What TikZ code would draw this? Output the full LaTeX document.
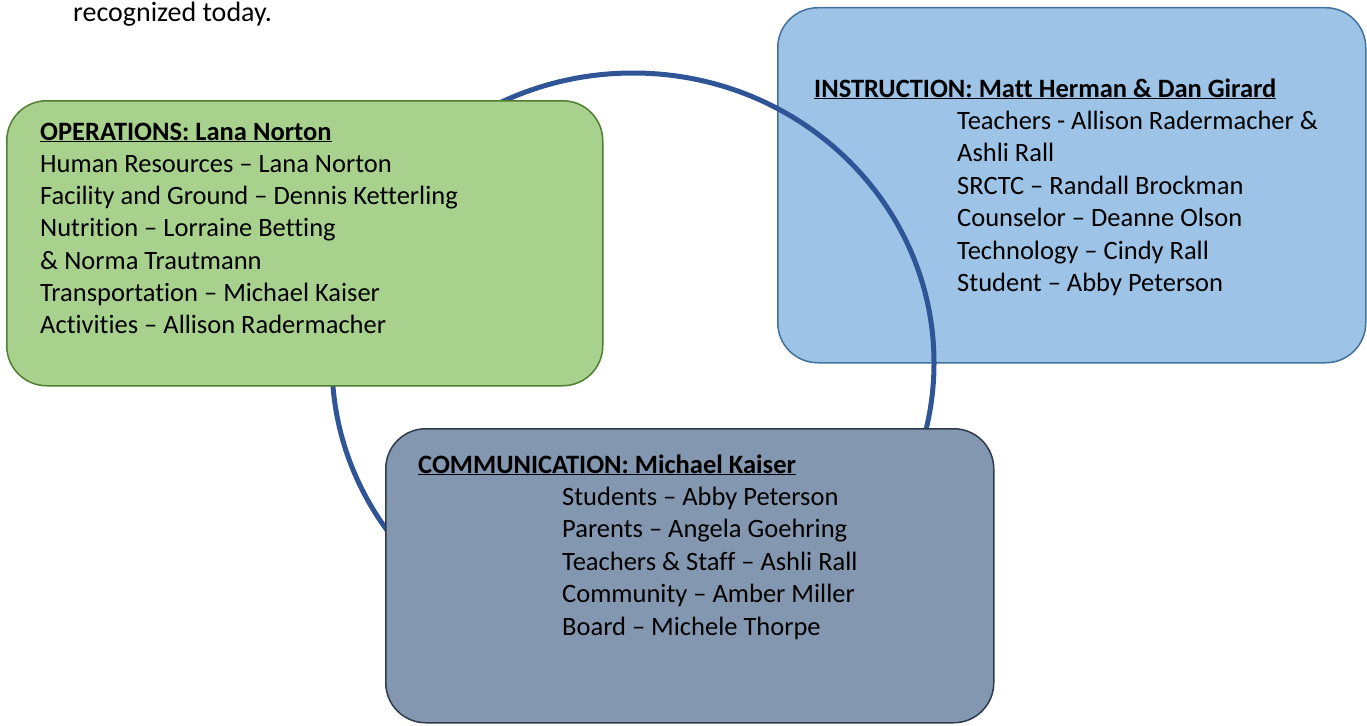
\documentclass[tikz,border=0pt]{standalone}
\usepackage{fontspec}
\setmainfont{Carlito}[Ligatures=NoCommon]
\usetikzlibrary{positioning}
\definecolor{opsfill}{HTML}{A9D18E}
\definecolor{opsdraw}{HTML}{507E32}
\definecolor{insfill}{HTML}{9DC3E6}
\definecolor{insdraw}{HTML}{41719C}
\definecolor{comfill}{HTML}{8497B0}
\definecolor{comdraw}{HTML}{2F3A4A}
\definecolor{ringblue}{HTML}{2F5597}

\begin{document}
\begin{tikzpicture}[x=1pt,y=-1pt,
  box/.style={draw,line width=1.5pt,rounded corners=40pt,anchor=north west,inner sep=0pt},
  txt/.style={anchor=base west,inner sep=0pt,font=\fontsize{26.5}{32}\selectfont},
  hdr/.style={txt,font=\fontsize{26.5}{32}\selectfont\bfseries}]
\useasboundingbox (0,0) rectangle (1367,725);
\node[txt,font=\fontsize{28}{34}\selectfont] (intro) at (73,22) {recognized today.};
% instruction
\node[box,fill=insfill,draw=insdraw,minimum width=588pt,minimum height=355pt] (ins) at (777,7) {};
\draw[ringblue,line width=5pt] (633,363) ellipse [x radius=301pt,y radius=290pt];
\node[hdr] (insHead) at (814,97) {\underline{INSTRUCTION: Matt Herman \& Dan Girard}};
\foreach \t [count=\i] in {Teachers - Allison Radermacher \&, Ashli Rall, SRCTC – Randall Brockman,
	Counselor – Deanne Olson, Technology – Cindy Rall, Student – Abby Peterson}{
	\node[txt] (ins\i) at (957,97+32.4*\i) {\t};
	}
% operations
\node[box,fill=opsfill,draw=opsdraw,minimum width=596pt,minimum height=285pt] (ops) at (6,100) {};
\node[hdr] (opsHead) at (40,140) {\underline{OPERATIONS: Lana Norton}};
\foreach \t [count=\i] in {Human Resources – Lana Norton, Facility and Ground – Dennis Ketterling,
	Nutrition – Lorraine Betting, \& Norma Trautmann, Transportation – Michael Kaiser,
	Activities – Allison Radermacher}{
	\node[txt] (ops\i) at (40,140+32.3*\i) {\t};
	}
% communication
\node[box,fill=comfill,draw=comdraw,minimum width=608pt,minimum height=294pt] (com) at (385,428) {};
\node[hdr] (comHead) at (418,473) {\underline{COMMUNICATION: Michael Kaiser}};
\foreach \t [count=\i] in {Students – Abby Peterson, Parents – Angela Goehring, Teachers \& Staff – Ashli Rall,
	Community – Amber Miller, Board – Michele Thorpe}{
	\node[txt] (com\i) at (562,473+32.4*\i) {\t};
	}
\end{tikzpicture}
\end{document}
